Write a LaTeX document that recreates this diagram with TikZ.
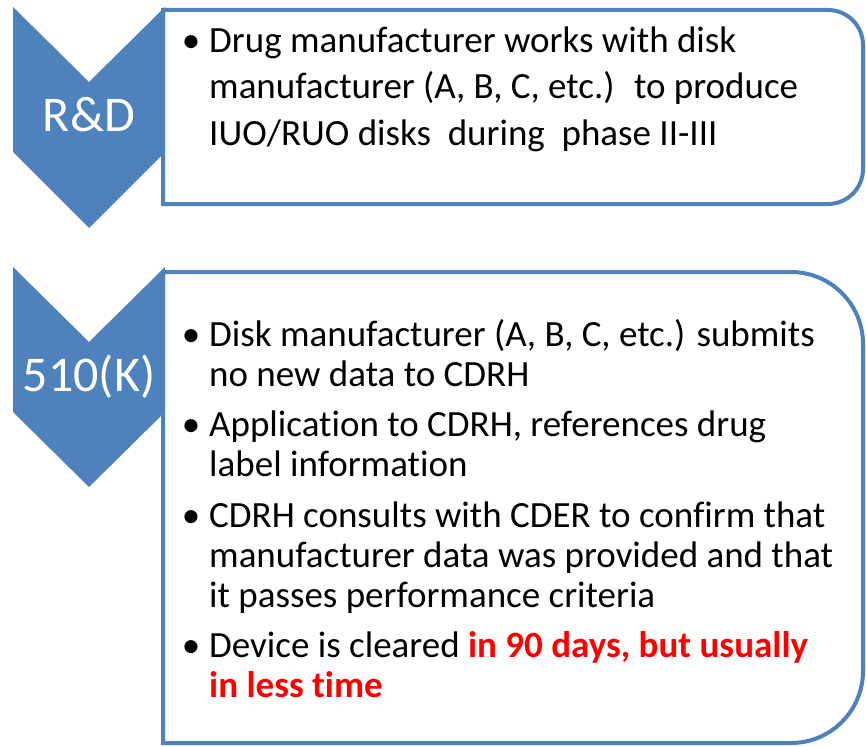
\documentclass[tikz,border=0pt]{standalone}
\usepackage{fontspec}
\setmainfont{Carlito}[Ligatures={NoCommon,NoContextual}]
\usetikzlibrary{
  calc,
  positioning
}
\definecolor{stageblue}{RGB}{79,129,189}
\definecolor{hotred}{RGB}{255,0,0}
% Bullet in the margin, with a fixed ascent so that `north west' is the
% same distance above the first baseline for every item.
\newcommand{\itembullet}{\llap{\textbullet\hspace{9pt}}\rule{0pt}{30pt}}
% Fixed descent for the last line, so that `south west' doesn't depend on
% the letters of that line.
\newcommand{\itemend}{\rule[-10pt]{0pt}{10pt}}
% For the highlighted time span.
\newcommand{\hilite}[1]{\textcolor{hotred}{\bfseries #1}}
\tikzset{
  % For the down-pointing stage arrows.
  chevron/.style={
    fill=stageblue,
    draw=none},
%
  % For the names written on the stage arrows.
  stage/.style={
    text=white,
    inner sep=0pt,
    font=\fontsize{50}{50}\selectfont},
%
  % For the boxes that hold the bullet lists.
  panel/.style={
    draw=stageblue,
    line width=4pt},
%
  % For one bullet item; the line spacing is given per box.
  item/.style={
    anchor=north west,
    inner sep=0pt,
    align=left},
  rd item/.style={
    item,
    font=\fontsize{37}{46.5}\selectfont},
  k item/.style={
    item,
    font=\fontsize{37}{40}\selectfont}
}

\begin{document}
\begin{tikzpicture}[x=1pt, y=-1pt]
  \useasboundingbox (0,0) rectangle (866,746);

  % Research box.
  \draw[panel] (163,204) -- (163,10) [rounded corners=35]
                 -- (863,10) -- (863,204) [sharp corners] -- cycle;
  \draw[chevron] (13,7) -- (89,82) -- (165,7) -- (165,152)
                   -- (89,228) -- (13,152) -- cycle;
  \node[stage] (rd) at (89,115) {R\&D};

  \node[rd item] (rd1) at (209,22)
    {\itembullet Drug manufacturer works with disk\\
     manufacturer (A, B, C, etc.)~ to produce\\
     IUO/RUO disks~ during~ phase II-III};

  % Clearance box.
  \draw[panel] (163,743) -- (163,272) [rounded corners=72]
                 -- (863,272) -- (863,743) [sharp corners] -- cycle;
  \draw[chevron] (13,267) -- (89,342) -- (165,267) -- (165,412)
                   -- (89,487) -- (13,412) -- cycle;
  \node[stage] (k) at (89,377) {510(K)};

  \node[k item] (k1) at (209,316)
    {\itembullet Disk manufacturer (A, B, C, etc.) submits\\
     no new data to CDRH\itemend};
  \node[k item, below=10pt of k1.south west, anchor=north west] (k2)
    {\itembullet Application to CDRH, references drug\\
     label information\itemend};
  \node[k item, below=10pt of k2.south west, anchor=north west] (k3)
    {\itembullet CDRH consults with CDER to confirm that\\
     manufacturer data was provided and that\\
     it passes performance criteria\itemend};
  \node[k item, below=10pt of k3.south west, anchor=north west] (k4)
    {\itembullet Device is cleared \hilite{in 90 days, but usually}\\
     \hilite{in less time}\itemend};
\end{tikzpicture}
\end{document}
